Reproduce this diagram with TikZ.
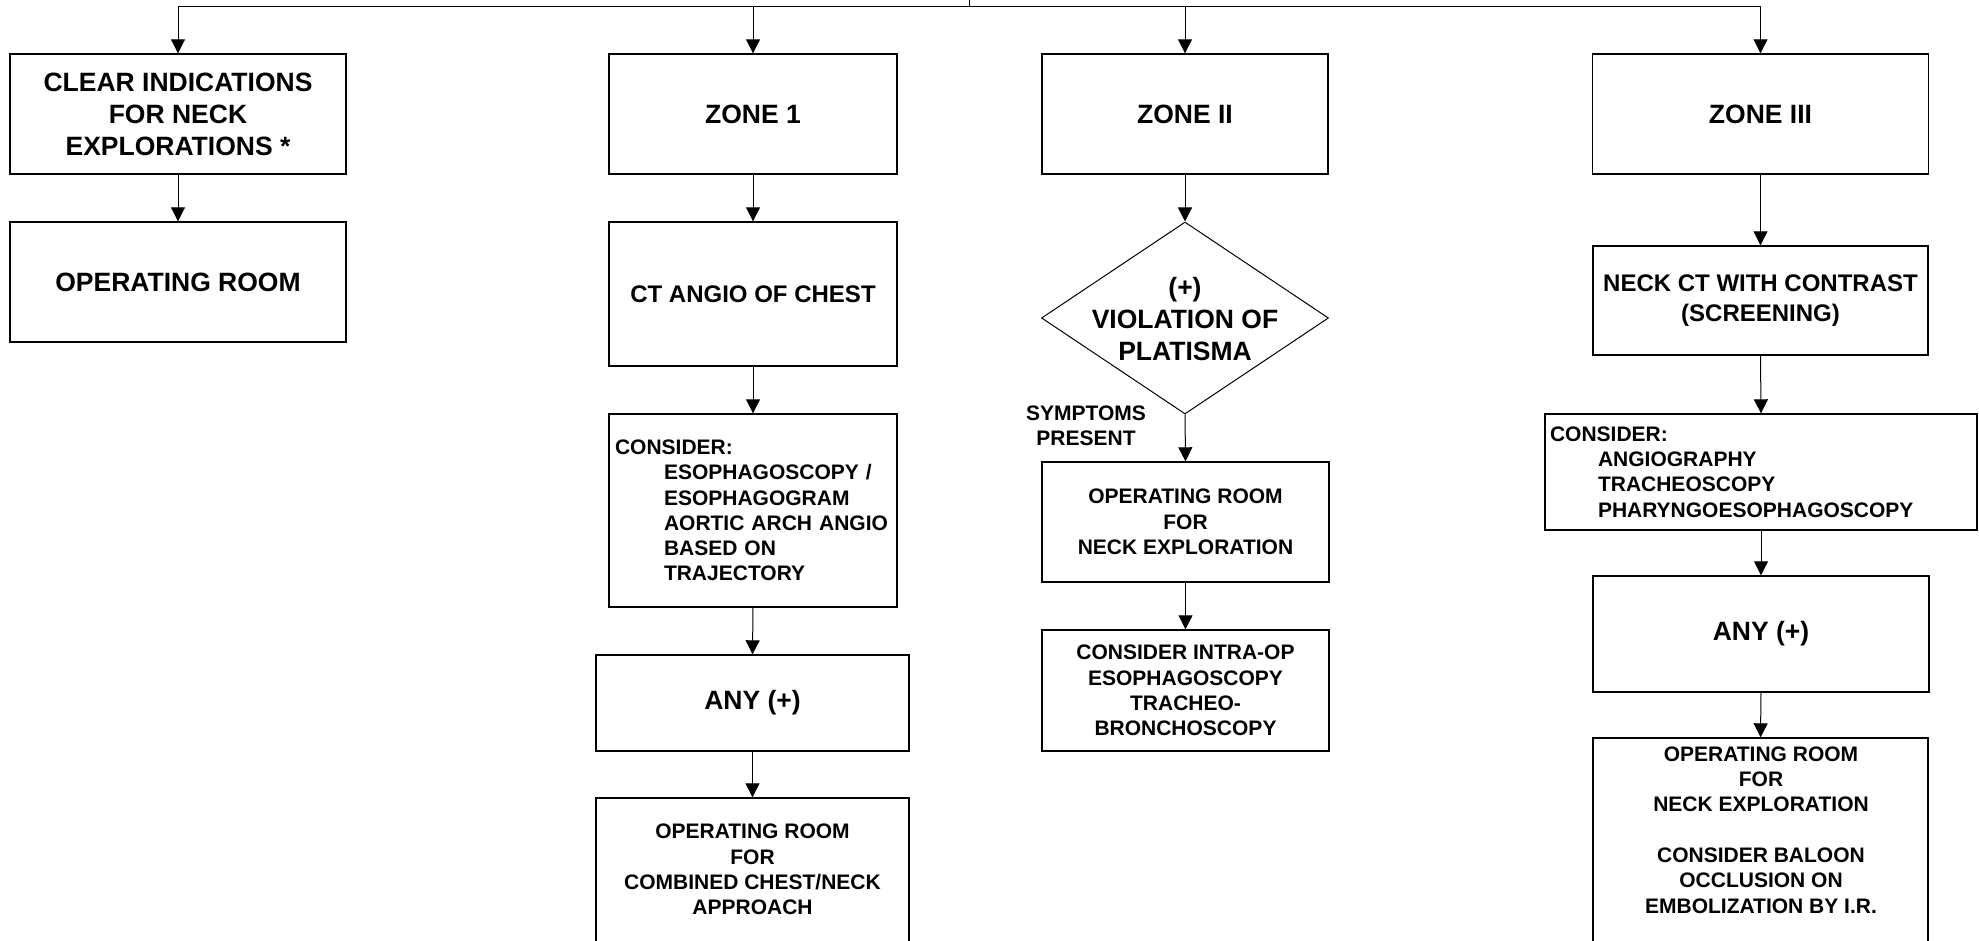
\documentclass[tikz,border=0pt]{standalone}
\usepackage{fontspec}
\setmainfont{Liberation Sans}
\usetikzlibrary{arrows.meta,shapes.geometric}
\begin{document}
\begin{tikzpicture}[x=1pt,y=-1pt,
  box/.style={draw, line width=1.4pt, inner sep=0pt, align=center},
  big/.style={font=\fontsize{26.5}{32}\selectfont\bfseries, align=center, inner sep=0pt},
  mid/.style={font=\fontsize{24}{30}\selectfont\bfseries, align=center},
  small/.style={font=\fontsize{21}{25.3}\selectfont\bfseries, align=center},
  conn/.style={line width=1pt, -{Triangle[width=14pt,length=14pt]}},
]
\useasboundingbox (0,0) rectangle (1979,941);
\fill[white] (0,0) rectangle (1979,941);

% column 1
\node[box, big, minimum width=336pt, minimum height=120pt] (clear) at (178,114) {CLEAR INDICATIONS\\FOR NECK\\EXPLORATIONS *};
\node[box, big, minimum width=336pt, minimum height=120pt] (orroom) at (178,282) {OPERATING ROOM};

% column 2
\node[box, big, minimum width=288pt, minimum height=120pt] (zone1) at (753,114) {ZONE 1};
\node[box, mid, minimum width=288pt, minimum height=144pt] (ctangio) at (753,294) {CT ANGIO OF CHEST};
\node[box, small, align=left, minimum width=288pt, minimum height=193pt, text width=276pt, inner xsep=6pt] (consider1) at (753,510.5)
 {CONSIDER:\\\hspace*{49pt}ESOPHAGOSCOPY /\\\hspace*{49pt}ESOPHAGOGRAM\\\hspace*{49pt}AORTIC ARCH ANGIO\\\hspace*{49pt}BASED ON\\\hspace*{49pt}TRAJECTORY};
\node[box, big, minimum width=313pt, minimum height=96pt] (any1) at (752.5,703) {ANY (+)};
\node[box, minimum width=313pt, minimum height=150pt] (orcomb) at (752.5,873) {};
\node[small] (orcombtxt) at (752.5,869.5) {OPERATING ROOM\\FOR\\COMBINED CHEST/NECK\\APPROACH};

% column 3
\node[box, big, minimum width=286pt, minimum height=120pt] (zone2) at (1185,114) {ZONE II};
\node[draw, diamond, line width=1pt, minimum width=287pt, minimum height=192pt, inner sep=0pt] (plat) at (1185,318) {};
\node[big] (plattxt) at (1185,319) {(+)\\VIOLATION OF\\PLATISMA};
\node[small] (symp) at (1086,425.5) {SYMPTOMS\\PRESENT};
\node[box, small, minimum width=287pt, minimum height=120pt] (orneck) at (1185.5,522) {OPERATING ROOM\\FOR\\NECK EXPLORATION};
\node[box, small, minimum width=287pt, minimum height=121pt] (intraop) at (1185.5,690.5) {CONSIDER INTRA-OP\\ESOPHAGOSCOPY\\TRACHEO-\\BRONCHOSCOPY};

% column 4
\node[box, big, minimum width=336pt, minimum height=120pt] (zone3) at (1760.5,114) {ZONE III};
\node[box, mid, minimum width=335pt, minimum height=109pt] (neckct) at (1760.5,300.5) {NECK CT WITH CONTRAST\\(SCREENING)};
\node[box, small, align=left, minimum width=432pt, minimum height=116pt, text width=422pt, inner xsep=5pt] (consider3) at (1761,472)
 {CONSIDER:\\\hspace*{48pt}ANGIOGRAPHY\\\hspace*{48pt}TRACHEOSCOPY\\\hspace*{48pt}PHARYNGOESOPHAGOSCOPY};
\node[box, big, minimum width=336pt, minimum height=116pt] (any3) at (1761,634) {ANY (+)};
\node[box, minimum width=335pt, minimum height=210pt] (or3) at (1760.5,843) {};
\node[small] (or3txt) at (1761,830) {OPERATING ROOM\\FOR\\NECK EXPLORATION\\[25.3pt]CONSIDER BALOON\\OCCLUSION ON\\EMBOLIZATION BY I.R.};

% connectors
\coordinate (stubtop) at (969,0);
\coordinate (bus) at (969,7);
\draw[line width=1pt] (stubtop) -- (bus);
\draw[conn] (bus) -| (clear.north);
\draw[conn] (bus) -| (zone1.north);
\draw[conn] (bus) -| (zone2.north);
\draw[conn] (bus) -| (zone3.north);

\draw[conn] (clear.south) -- (orroom.north);

\draw[conn] (zone1.south) -- (ctangio.north);
\draw[conn] (ctangio.south) -- (consider1.north);
\draw[conn] (consider1.south) -- (any1.north);
\draw[conn] (any1.south) -- (orcomb.north);

\draw[conn] (zone2.south) -- (plat.north);
\draw[conn] (plat.south) -- (orneck.north);
\draw[conn] (orneck.south) -- (intraop.north);

\draw[conn] (zone3.south) -- (neckct.north);
\draw[conn] (neckct.south) -- (consider3.north);
\draw[conn] (consider3.south) -- (any3.north);
\draw[conn] (any3.south) -- (or3.north);
\end{tikzpicture}
\end{document}
